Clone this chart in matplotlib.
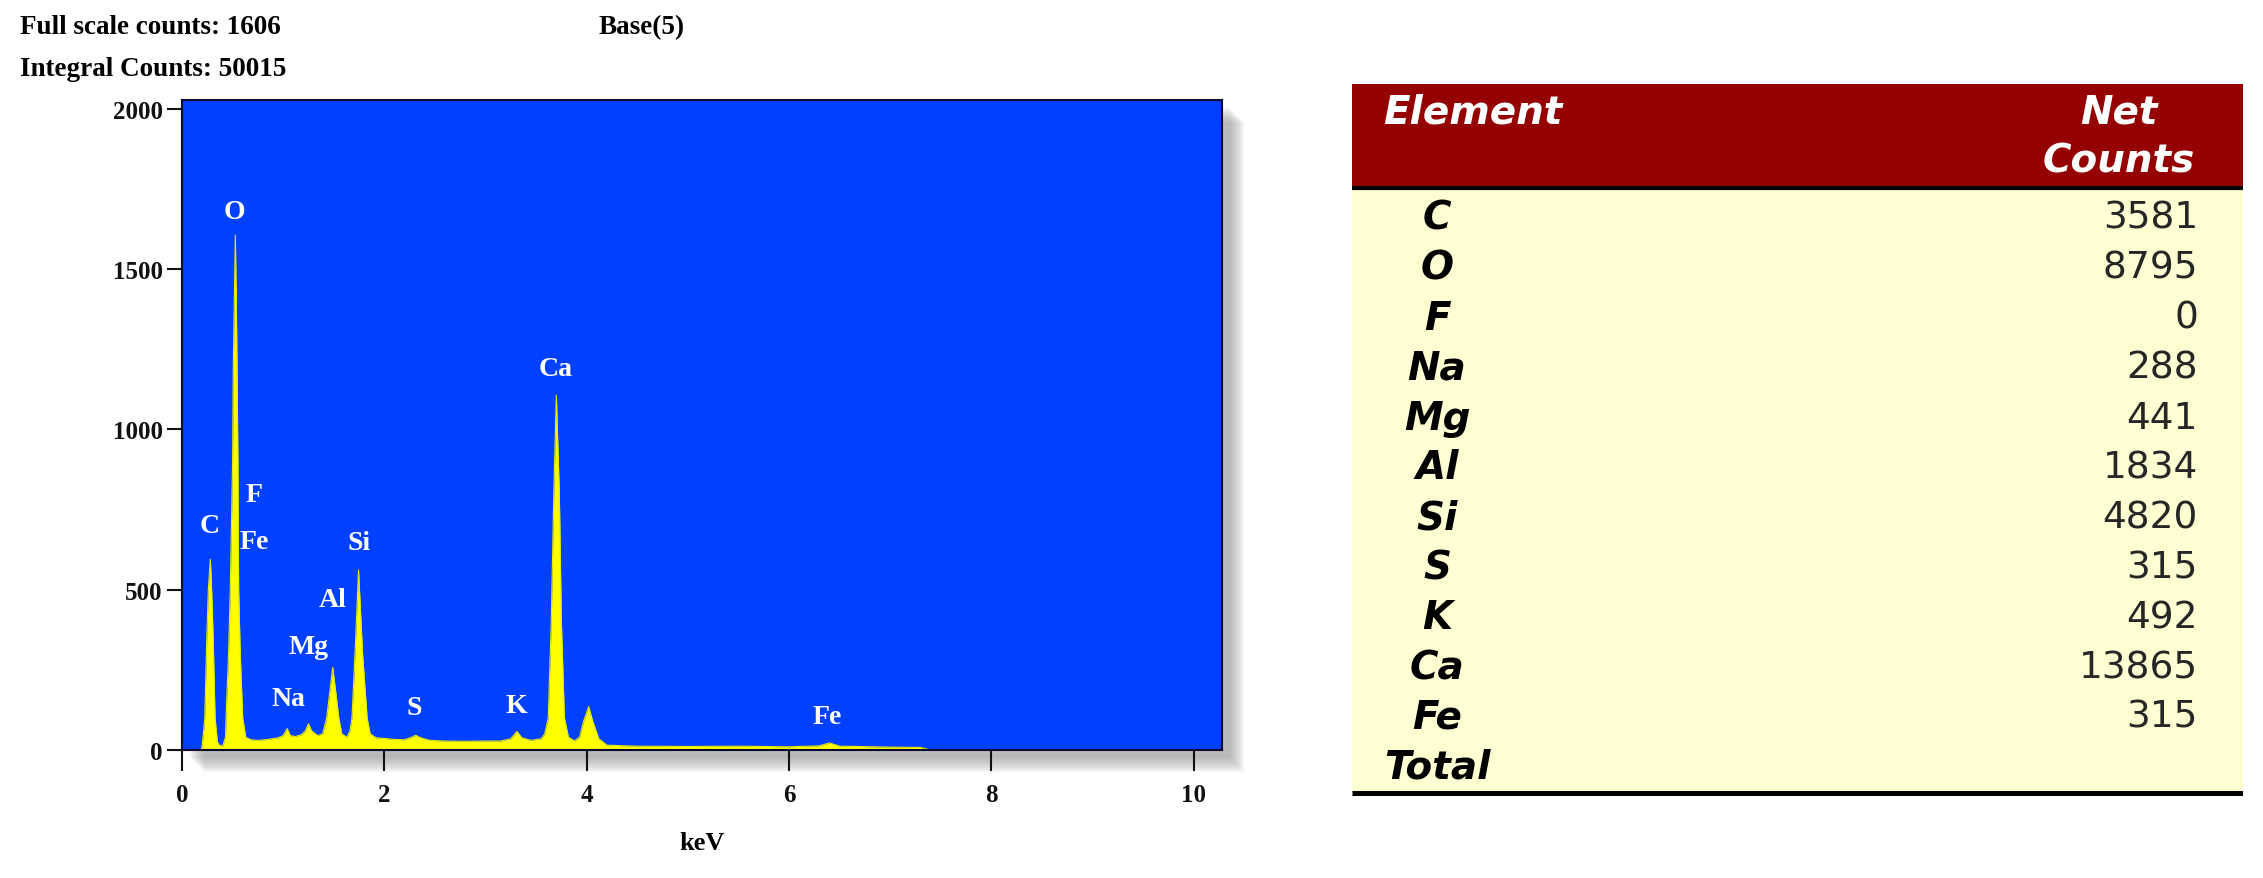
import matplotlib.pyplot as plt
from matplotlib.patches import Rectangle

plt.rcParams['font.family'] = ['Liberation Serif', 'DejaVu Serif']

# EDS spectrum outline (keV, counts)
spectrum_kev = [0.00, 0.19, 0.20, 0.225, 0.245, 0.26, 0.28, 0.293, 0.308, 0.327,
                0.35, 0.37, 0.40, 0.43, 0.435, 0.46, 0.477, 0.50, 0.507, 0.517,
                0.527, 0.537, 0.544, 0.553, 0.56, 0.576, 0.60, 0.63, 0.68, 0.75,
                0.85, 0.95, 1.00, 1.04, 1.07, 1.12, 1.18, 1.22, 1.25, 1.28,
                1.34, 1.39, 1.43, 1.46, 1.49, 1.52, 1.55, 1.58, 1.63, 1.66,
                1.68, 1.71, 1.745, 1.785, 1.83, 1.86, 1.92, 2.00, 2.10, 2.20,
                2.27, 2.31, 2.36, 2.45, 2.60, 2.80, 3.00, 3.15, 3.25, 3.31,
                3.36, 3.45, 3.55, 3.585, 3.62, 3.65, 3.675, 3.70, 3.73, 3.75,
                3.78, 3.82, 3.88, 3.93, 3.97, 4.02, 4.06, 4.12, 4.20, 4.50,
                5.00, 5.50, 6.00, 6.30, 6.40, 6.50, 7.00, 7.30, 7.40, 10.3]
spectrum_counts = [0, 0, 15, 100, 350, 500, 595, 500, 350, 100,
                   25, 15, 12, 40, 100, 300, 500, 900, 1200, 1400,
                   1606, 1400, 1200, 900, 500, 300, 100, 40, 32, 30,
                   33, 38, 45, 67, 45, 42, 48, 60, 82, 60,
                   45, 50, 100, 180, 258, 180, 100, 50, 40, 60,
                   100, 300, 561, 300, 100, 50, 38, 36, 33, 32,
                   40, 46, 38, 30, 28, 27, 28, 28, 35, 58,
                   38, 30, 35, 50, 100, 400, 800, 1107, 800, 400,
                   100, 40, 28, 40, 90, 135, 90, 35, 15, 12,
                   11, 12, 10, 13, 22, 12, 9, 8, 0, 0]

peak_labels = ['C', 'O', 'F', 'Fe', 'Na', 'Mg', 'Al', 'Si', 'S', 'K', 'Ca', 'Fe']
label_kev = [0.277, 0.52, 0.71, 0.71, 1.05, 1.25, 1.49, 1.75, 2.30, 3.30, 3.69, 6.38]
label_counts = [699, 1679, 796, 652, 162, 324, 468, 646, 134, 140, 1189, 103]

x_ticks = [0, 2, 4, 6, 8, 10]
y_ticks = [0, 500, 1000, 1500, 2000]

elements = ['C', 'O', 'F', 'Na', 'Mg', 'Al', 'Si', 'S', 'K', 'Ca', 'Fe', 'Total']
net_counts = ['3581', '8795', '0', '288', '441', '1834', '4820', '315', '492',
              '13865', '315', '']

W, H = 2263, 879
fig = plt.figure(figsize=(W / 100, H / 100), dpi=100)

# spectrum panel, with a soft drop shadow behind it
ax_l, ax_b, ax_w, ax_h = 182 / W, (H - 751) / H, 1040 / W, 650 / H
for k in range(8):
    off = 8 + 2 * k
    fig.patches.append(Rectangle((ax_l + off / W, ax_b - off / H), ax_w, ax_h,
                                 transform=fig.transFigure, color='#808080',
                                 alpha=0.09, lw=0, zorder=-5))

ax = fig.add_axes([ax_l, ax_b, ax_w, ax_h])
ax.set_zorder(3)
ax.set_facecolor('#0040FF')
ax.fill_between(spectrum_kev, spectrum_counts, 0, color='#FFFF00', lw=0)
ax.plot(spectrum_kev, spectrum_counts, color='#E8E800', lw=0.8)
ax.set_xlim(0, 10.28)
ax.set_ylim(0, 2028)
ax.set_xticks(x_ticks)
ax.set_yticks(y_ticks)
ax.tick_params(axis='x', direction='out', length=15, width=1.5, pad=9,
               labelsize=18, colors='#111111')
ax.tick_params(axis='y', direction='out', length=11, width=1.5, pad=3,
               labelsize=18, colors='#111111')
for lbl in ax.get_xticklabels() + ax.get_yticklabels():
    lbl.set_fontweight('bold')
for sp in ax.spines.values():
    sp.set_color('#0a0a30')
    sp.set_linewidth(1.5)
ax.set_xlabel('keV', fontsize=19, fontweight='bold', labelpad=18)

for name, xk, yc in zip(peak_labels, label_kev, label_counts):
    ax.text(xk, yc, name, color='white', fontsize=20, fontweight='bold',
            ha='center', va='center')

fig.text(20 / W, 1 - 28 / H, 'Full scale counts: 1606', fontsize=19.5,
         fontweight='bold', ha='left', va='center')
fig.text(599 / W, 1 - 28 / H, 'Base(5)', fontsize=19.5,
         fontweight='bold', ha='left', va='center')
fig.text(20 / W, 1 - 69 / H, 'Integral Counts: 50015', fontsize=19.5,
         fontweight='bold', ha='left', va='center')

# net counts table
tab = fig.add_axes([1352 / W, (H - 798) / H, 891 / W, 713 / H])
tab.set_xlim(0, 891)
tab.set_ylim(713, 0)
tab.axis('off')
tab.add_patch(Rectangle((0, 0), 891, 104, color='#950000', lw=0))
tab.add_patch(Rectangle((0, 104), 891, 604, color='#FEFED2', lw=0))
tab.plot([0, 891], [104, 104], color='black', lw=3, solid_capstyle='butt')
tab.plot([0, 891], [709, 709], color='black', lw=3.6, solid_capstyle='butt')

tfont = ['DejaVu Sans']
tab.text(31, 28, 'Element', color='white', fontsize=28, family=tfont,
         fontweight='bold', style='italic', ha='left', va='center')
tab.text(767, 28, 'Net', color='white', fontsize=28, family=tfont,
         fontweight='bold', style='italic', ha='center', va='center')
tab.text(767, 77, 'Counts', color='white', fontsize=28, family=tfont,
         fontweight='bold', style='italic', ha='center', va='center')

for i, (el, cnt) in enumerate(zip(elements, net_counts)):
    y = 134 + i * 49.9
    tab.text(85, y, el, color='black', fontsize=28, family=tfont,
             fontweight='bold', style='italic', ha='center', va='center')
    tab.text(846, y, cnt, color='#262626', fontsize=27, family=tfont,
             ha='right', va='center')

fig.savefig('out.png', dpi=100)
